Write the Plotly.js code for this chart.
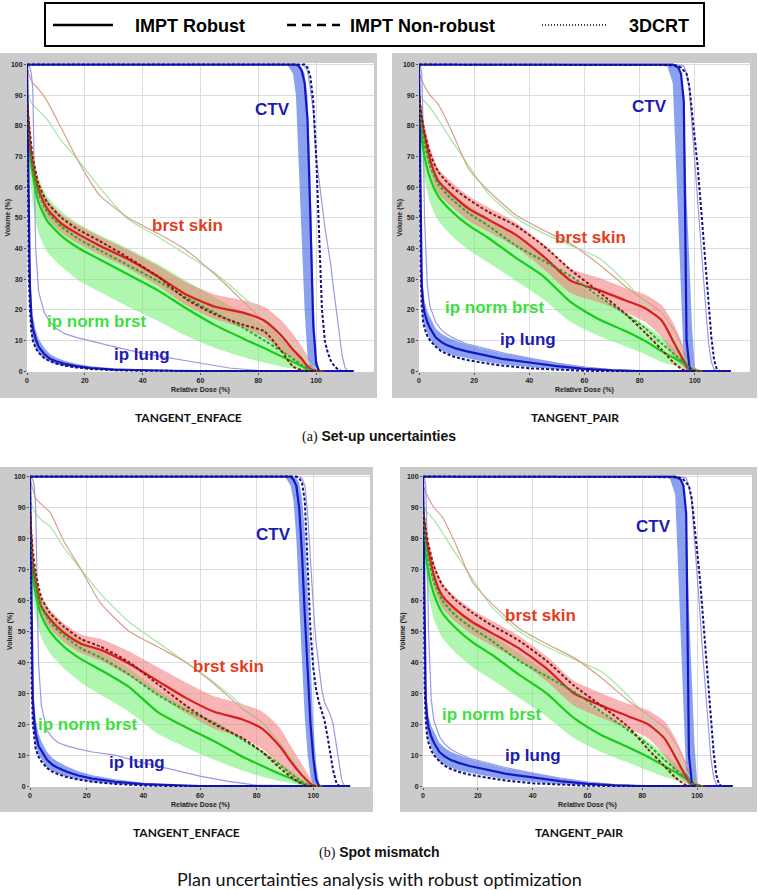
<!DOCTYPE html>
<html><head><meta charset="utf-8">
<script src="https://cdn.plot.ly/plotly-3.0.1.min.js"></script>
<style>html,body{margin:0;padding:0;background:#fff;}#chart{width:758px;height:890px;}</style>
</head><body><div id="chart"></div>
<script>
// ---------------- DATA ----------------
const DOSE_ORG  = [0,1,2,4,7,12,18,25,35,45,55,65,75,82,88,92,95,97,99,101,103];
const DOSE_CTV  = [0,90,92,93,94,95,96,97,98,99,100,101,102,103,104,105,106,107,108,109,110,111,113];
const DOSE_LUNG = [0,0.3,0.6,1,1.5,2,3,4,6,8,10,13,17,22,30,40,50,60,70,80,100];
const X_TICKS = [0,20,40,60,80,100];
const Y_TICKS = [0,10,20,30,40,50,60,70,80,90,100];

// Panel A1: Set-up, TANGENT_ENFACE
const A1_SKIN_ROB = [88,75,67,59,53,48,44.5,41,36.5,31,25,21,19,16.5,11.5,7,4,1.5,0.3,0,0];
const A1_SKIN_LO  = [86,72,64,56,50,45,41.5,38,33.5,28,21.5,17,14,11,6.5,3.5,1.5,0.5,0,0,0];
const A1_SKIN_HI  = [90,78,70,62,56,51,47.5,44,39.5,34.5,29,25,23,21,16.5,12,8,5,2,0.5,0];
const A1_SKIN_NR  = [88,78,70,61,55,50,46,42.5,37,31,23.5,18.5,15,13,6.5,1.5,0.3,0,0,0,0];
const A1_SKIN_CRT = [99,96,94,92,88,79,68,57.5,50,45,39.5,31.5,22.5,16,10,6.5,3.5,2,0.8,0.2,0];
const A1_NORM_ROB = [88,72,64,55,49,44,40,36.5,31.5,26.5,20.5,15,10.5,7.5,4.8,3,1.6,0.6,0.1,0,0];
const A1_NORM_LO  = [85,64,55,45,39,34,29.5,26,21,16.5,11.5,7.5,4.5,2.8,1.5,0.8,0.3,0.1,0,0,0];
const A1_NORM_HI  = [90,79,71,63,57,52,48,44.5,40,35,29.5,24,19,15,10.5,7,4.5,2.5,1,0.3,0];
const A1_NORM_NR  = [88,75,67,58,52,47,43,39.5,34.5,29.5,24,19,14,10,6.5,4,2,0.8,0.2,0,0];
const A1_NORM_CRT = [91,88.6,87,85,82,75,68.5,60,49.5,44,38,32,24,18,12.5,8.7,5.5,3.5,1.5,0.3,0];
const A1_CTV_ROB  = [100,100,100,100,99.5,98,94,82,50,15,2.5,0,0,0,0,0,0,0,0,0,0,0,0];
const A1_CTV_LO   = [100,100,97,90,70,45,20,5,0.5,0,0,0,0,0,0,0,0,0,0,0,0,0,0];
const A1_CTV_HI   = [100,100,100,100,100,99,97,90,65,25,5,0.5,0,0,0,0,0,0,0,0,0,0,0];
const A1_CTV_NR   = [100,100,100,100,100,100,100,99,96,88,70,45,20,10,6,3.5,2,1,0.2,0,0,0,0];
const A1_CTV_CRT  = [100,100,100,100,100,100,99.5,98,92,85,70,62,54,47,41,35,27,19,11,5,1,0,0];
const A1_LUNG_ROB = [100,80,45,28,18,14,10.5,8,5.5,4,3.2,2.4,1.6,1,0.5,0.2,0.1,0,0,0,0];
const A1_LUNG_LO  = [100,70,35,20,13,10,7.5,6,4,3,2.2,1.5,1,0.5,0.2,0,0,0,0,0,0];
const A1_LUNG_HI  = [100,90,58,36,24,18,13.5,10.5,7.5,5.5,4.4,3.4,2.4,1.6,0.9,0.4,0.2,0.05,0,0,0];
const A1_LUNG_NR  = [100,65,32,20,13,10,7.5,6,4.2,3.2,2.5,1.8,1.2,0.7,0.3,0.1,0,0,0,0,0];
const A1_LUNG_CRT = [100,100,99.5,99,97,92,40,26,19,16,14,12.2,11,9.8,8,5.8,4.2,2.6,1,0.2,0];

// Panel A2: Set-up, TANGENT_PAIR
const A2_SKIN_ROB = [90,82,77,69,62,57.5,53,49.5,44.5,37.5,29.5,26.5,23,20.5,16.5,10,5,1.5,0.3,0,0];
const A2_SKIN_LO  = [88,78,73,65,58,53.5,49,45.5,40.5,33.5,25.5,22.5,19,16,11,5,2,0.5,0,0,0];
const A2_SKIN_HI  = [92,85,80,73,66,61.5,57,53.5,48.5,41.5,33.5,30.5,27,25,21.5,16,10,5,2,0.5,0];
const A2_SKIN_NR  = [90,83,78,71,65,60,56,52,47.5,41,33,26,18.5,12.5,7,3,0.8,0,0,0,0];
const A2_SKIN_CRT = [97,95,93,90,87,78,66,59,51,46,41.5,35,27.5,23,19,14,9,5,1.5,0.3,0];
const A2_NORM_ROB = [88,76,70,63,57,52,47.5,43.5,37,31,22.5,17,13,9.8,6.5,4.5,3,1.8,0.6,0,0];
const A2_NORM_LO  = [85,70,63,55,49,44,39.5,35.5,29.5,23.5,16,11.5,8,5.5,3,2,1.2,0.6,0.1,0,0];
const A2_NORM_HI  = [90,80,75,69,63,58,54,50,44,38,30,24,19,15,11,8,5.5,3.5,1.5,0.3,0];
const A2_NORM_NR  = [88,79,74,67,61,56,51.5,47.5,41,36,31,24.5,18.5,14,9,6,3.5,1.8,0.5,0,0];
const A2_NORM_CRT = [91,89,88,86,82,75,67,58,50,45,41,37,29,22,16,11,6.5,3.5,1.2,0.3,0];
const A2_CTV_ROB  = [100,100,100,99.5,99,97,88,10,1.5,0.2,0,0,0,0,0,0,0,0,0,0,0,0,0];
const A2_CTV_LO   = [100,99.5,94,72,48,26,3,0,0,0,0,0,0,0,0,0,0,0,0,0,0,0,0];
const A2_CTV_HI   = [100,100,100,100,99.5,97,90,57,36,14,1,0,0,0,0,0,0,0,0,0,0,0,0];
const A2_CTV_NR   = [100,100,100,99.8,99.5,99,98,97,93,85,76,67,56,45,34,22,11,3.5,0.5,0,0,0,0];
const A2_CTV_CRT  = [100,100,100,100,100,99.8,99.5,97,92,81,68,56,43,32,20,9,3,0.5,0,0,0,0,0];
const A2_LUNG_ROB = [100,75,45,28,22,19,16,14,11,9.5,8.5,7.5,6.5,5.5,4,2.8,1.6,0.7,0.2,0,0];
const A2_LUNG_LO  = [100,65,35,22,17,15,12.5,10.5,8,6.8,6,5,4.2,3.4,2.2,1.3,0.6,0.2,0,0,0];
const A2_LUNG_HI  = [100,85,55,34,27,23,19.5,17.5,14,12.3,11.2,10,8.8,7.6,5.8,4.2,2.6,1.4,0.6,0.2,0];
const A2_LUNG_NR  = [100,60,32,21,16,14,11.5,10,8,6.5,5.6,4.6,3.7,2.9,1.8,0.9,0.4,0.1,0,0,0];
const A2_LUNG_CRT = [100,100,99,97,80,50,28,21,16,13.5,12,10.5,9,7.8,6,4.2,2.6,1.3,0.5,0.1,0];

// Panel B1: Spot mismatch, TANGENT_ENFACE
const B1_SKIN_ROB = [88,72,66,58,54,49.5,46,44,39.5,34,28.5,24,21.5,18.5,13,8,4.5,2.5,0.8,0,0];
const B1_SKIN_LO  = [86,69,63,55,51,46.5,43,40.5,35.5,29.5,23.5,18.5,15.5,12,7,3.5,1.5,0.5,0,0,0];
const B1_SKIN_HI  = [90,75,69,61,57,52.5,49,47.5,43.5,38.5,33.5,29,26.5,24,19,13,8.5,5.5,2.5,0.5,0];
const B1_SKIN_NR  = [88,76,69,61,56,51.5,47.5,45,40,33,26,20,15.5,11,6,3,1.2,0.3,0,0,0];
const B1_SKIN_CRT = [99,96,93,91,88.5,79,70,59,50,45,40,33,25,20.5,14,9,5,2.5,0.8,0.2,0];
const B1_NORM_ROB = [88,68,62,55,50,45,41,37.5,32,24,19,14.5,9.5,6.5,4,2.5,1.2,0.5,0.1,0,0];
const B1_NORM_LO  = [85,62,55,48,43,38,33.5,29.5,24,17,12.5,8.5,5,3,1.6,1,0.4,0.1,0,0,0];
const B1_NORM_HI  = [90,73,67,61,56,51,47,43.5,38,31,25.5,21,15.5,11.5,7.5,5,3,1.6,0.6,0.1,0];
const B1_NORM_NR  = [88,72,66,58,53,48.5,44.5,41.5,36,29.5,24.5,20.5,15,11,7,4,2,0.8,0.2,0,0];
const B1_NORM_CRT = [92,90,88,86,84,77,70,62,53,46.5,40,33.5,26,20,14,9.5,5.5,3,1.2,0.3,0];
const B1_CTV_ROB  = [100,100,100,99,97,90,75,55,35,20,9,2,0,0,0,0,0,0,0,0,0,0,0];
const B1_CTV_LO   = [100,100,97,92,80,60,40,22,10,3,0.5,0,0,0,0,0,0,0,0,0,0,0,0];
const B1_CTV_HI   = [100,100,100,100,99.5,98,93,82,62,40,20,7,1,0,0,0,0,0,0,0,0,0,0];
const B1_CTV_NR   = [100,100,100,100,100,99.5,98,92,72,50,38,31,27,24,21,16,11,5,1.5,0,0,0,0];
const B1_CTV_CRT  = [100,100,100,100,100,100,99.5,97,88,72,58,46,38,31,27,25,23,20,14,7,2,0,0];
const B1_LUNG_ROB = [100,78,45,28,21,17,13,11.5,8.5,6.8,5.8,4.6,3.4,2.4,1.4,0.6,0.2,0,0,0,0];
const B1_LUNG_LO  = [100,68,35,22,16,13,10,8.5,6,4.8,4,3,2.2,1.4,0.7,0.2,0,0,0,0,0];
const B1_LUNG_HI  = [100,88,58,36,27,22,17,14.5,11,9,7.8,6.3,4.8,3.5,2.2,1.1,0.5,0.1,0,0,0];
const B1_LUNG_NR  = [100,62,32,20,15,12,9.5,8,5.8,4.6,3.8,2.9,2.1,1.4,0.7,0.2,0,0,0,0,0];
const B1_LUNG_CRT = [100,100,99.5,99,97,90,40,26,18,15.5,14,13,12,11,10,7.5,5.4,3.2,1.5,0.3,0];

// Panel B2: Spot mismatch, TANGENT_PAIR
const B2_SKIN_ROB = [90,81,76,68,61.5,57,53,49.5,44.5,38,30,26,22.5,20,15.5,9.5,4.5,1.5,0.3,0,0];
const B2_SKIN_LO  = [88,77,72,64,57.5,53,49,45.5,40.5,34,26,22,18.5,15.5,10,4.5,1.8,0.5,0,0,0];
const B2_SKIN_HI  = [92,84,79,72,65.5,61,57,53.5,48.5,42,34,30,26.5,24.5,21,15.5,9.5,5,2,0.5,0];
const B2_SKIN_NR  = [90,83,78,71,65,60,56,52,47,40.5,32.5,26,19,12,6.5,2.8,0.8,0,0,0,0];
const B2_SKIN_CRT = [97,95,93,90,87,78,66,59,51,46,41.5,35,27.5,23,19,14,9,5,1.5,0.3,0];
const B2_NORM_ROB = [88,75,69,62,56,51,46.5,42.5,36,30,22,16.5,12.5,9.5,6.5,4.5,3,1.8,0.6,0,0];
const B2_NORM_LO  = [85,69,62,54,48,43,38.5,34.5,28.5,22.5,15.5,11,7.5,5,3,2,1.2,0.6,0.1,0,0];
const B2_NORM_HI  = [90,79,74,68,62,57,53,49,43,37,29.5,23.5,18.5,14.5,10.5,7.5,5.5,3.5,1.5,0.3,0];
const B2_NORM_NR  = [88,78,73,66,60,55,51,47,40.5,35.5,30.5,24,18,13.5,8.5,5.5,3.2,1.6,0.5,0,0];
const B2_NORM_CRT = [91,89,88,86,82,75,67,58,50,45,41,37,29,22,16,11,6.5,3.5,1.2,0.3,0];
const B2_CTV_ROB  = [100,100,100,99.5,99,97,88,10,1.5,0.2,0,0,0,0,0,0,0,0,0,0,0,0,0];
const B2_CTV_LO   = [100,99.5,94,72,48,26,3,0,0,0,0,0,0,0,0,0,0,0,0,0,0,0,0];
const B2_CTV_HI   = [100,100,100,100,99.5,97,90,57,36,14,1,0,0,0,0,0,0,0,0,0,0,0,0];
const B2_CTV_NR   = [100,100,100,99.8,99.5,99,98,97,93,85,76,67,56,45,34,22,11,3.5,0.5,0,0,0,0];
const B2_CTV_CRT  = [100,100,100,100,100,99.8,99.5,97,92,81,68,56,43,32,20,9,3,0.5,0,0,0,0,0];
const B2_LUNG_ROB = [100,75,45,28,22,19,16,14,11,9.5,8.5,7.5,6.5,5.5,4,2.8,1.6,0.7,0.2,0,0];
const B2_LUNG_LO  = [100,65,35,22,17,15,12.5,10.5,8,6.8,6,5,4.2,3.4,2.2,1.3,0.6,0.2,0,0,0];
const B2_LUNG_HI  = [100,85,55,34,27,23,19.5,17.5,14,12.3,11.2,10,8.8,7.6,5.8,4.2,2.6,1.4,0.6,0.2,0];
const B2_LUNG_NR  = [100,60,32,21,16,14,11.5,10,8,6.5,5.6,4.6,3.7,2.9,1.8,0.9,0.4,0.1,0,0,0];
const B2_LUNG_CRT = [100,100,99,97,80,50,28,21,16,13.5,12,10.5,9,7.8,6,4.2,2.6,1.3,0.5,0.1,0];

const STRUCT_LABELS = ['CTV','brst skin','ip norm brst','ip lung'];
const CAPTIONS = ['TANGENT_ENFACE','TANGENT_PAIR'];
const ROW_CAPTIONS = ['Set-up uncertainties','Spot mismatch'];
const ROW_LETTERS = ['(a)','(b)'];
const LEGEND_NAMES = ['IMPT Robust','IMPT Non-robust','3DCRT'];
const MAIN_TITLE = 'Plan uncertainties analysis with robust optimization';

// ---------------- LAYOUT / STYLE ----------------
const W = 758, H = 890;
const PANELS = [
  {plot:[27,63,374,372],  gray:[0,53,377,398],
   lab:{ctv:[84.8,85.4], skin:[55.4,47.6], norm:[24.2,16.2], lung:[39.8,5.5]}},
  {plot:[419,63,750,372], gray:[392,53,757,398],
   lab:{ctv:[83.7,86.4], skin:[62,43.7], norm:[27.5,20.7], lung:[39.5,10.4]}},
  {plot:[30,475,370,787], gray:[0,467,373,812],
   lab:{ctv:[85.9,81.4], skin:[70,38.5], norm:[20.4,19.9], lung:[37.7,7.7]}},
  {plot:[423,475,752,787],gray:[400,467,757,812],
   lab:{ctv:[84,84], skin:[43,55], norm:[25,23], lung:[40,9.8]}}
];
const PANEL_DATA = [
  {skin:[A1_SKIN_ROB,A1_SKIN_LO,A1_SKIN_HI,A1_SKIN_NR,A1_SKIN_CRT], norm:[A1_NORM_ROB,A1_NORM_LO,A1_NORM_HI,A1_NORM_NR,A1_NORM_CRT],
   ctv:[A1_CTV_ROB,A1_CTV_LO,A1_CTV_HI,A1_CTV_NR,A1_CTV_CRT], lung:[A1_LUNG_ROB,A1_LUNG_LO,A1_LUNG_HI,A1_LUNG_NR,A1_LUNG_CRT]},
  {skin:[A2_SKIN_ROB,A2_SKIN_LO,A2_SKIN_HI,A2_SKIN_NR,A2_SKIN_CRT], norm:[A2_NORM_ROB,A2_NORM_LO,A2_NORM_HI,A2_NORM_NR,A2_NORM_CRT],
   ctv:[A2_CTV_ROB,A2_CTV_LO,A2_CTV_HI,A2_CTV_NR,A2_CTV_CRT], lung:[A2_LUNG_ROB,A2_LUNG_LO,A2_LUNG_HI,A2_LUNG_NR,A2_LUNG_CRT]},
  {skin:[B1_SKIN_ROB,B1_SKIN_LO,B1_SKIN_HI,B1_SKIN_NR,B1_SKIN_CRT], norm:[B1_NORM_ROB,B1_NORM_LO,B1_NORM_HI,B1_NORM_NR,B1_NORM_CRT],
   ctv:[B1_CTV_ROB,B1_CTV_LO,B1_CTV_HI,B1_CTV_NR,B1_CTV_CRT], lung:[B1_LUNG_ROB,B1_LUNG_LO,B1_LUNG_HI,B1_LUNG_NR,B1_LUNG_CRT]},
  {skin:[B2_SKIN_ROB,B2_SKIN_LO,B2_SKIN_HI,B2_SKIN_NR,B2_SKIN_CRT], norm:[B2_NORM_ROB,B2_NORM_LO,B2_NORM_HI,B2_NORM_NR,B2_NORM_CRT],
   ctv:[B2_CTV_ROB,B2_CTV_LO,B2_CTV_HI,B2_CTV_NR,B2_CTV_CRT], lung:[B2_LUNG_ROB,B2_LUNG_LO,B2_LUNG_HI,B2_LUNG_NR,B2_LUNG_CRT]}
];
const STY = {
  skin:{rob:'#d81e1e', band:'rgba(242,120,120,0.55)', nr:'#8a1c12', crt:'#d9a08c', lab:'#e2401c', grid:DOSE_ORG, shape:'spline'},
  norm:{rob:'#18cc18', band:'rgba(110,238,110,0.55)', nr:'#28a828', crt:'#a4e6a4', lab:'#3ee03e', grid:DOSE_ORG, shape:'spline'},
  ctv: {rob:'#1616c8', band:'rgba(60,100,225,0.6)', nr:'#12127e', crt:'#9a9ae2', lab:'#1c1cb0', grid:DOSE_CTV, shape:'linear'},
  lung:{rob:'#1616c8', band:'rgba(60,100,225,0.6)', nr:'#12127e', crt:'#9a9ae2', lab:'#1c1cb0', grid:DOSE_LUNG, shape:'linear'}
};
const px = v => v / W;
const py = v => 1 - v / H;

const traces = [];
const shapes = [];
const annotations = [];
const layout = {
  width: W, height: H, margin:{l:0,r:0,t:0,b:0},
  paper_bgcolor:'#ffffff', plot_bgcolor:'rgba(0,0,0,0)', showlegend:false,
  shapes: shapes, annotations: annotations
};
const ORDER = ['norm','skin','ctv','lung'];
const LABKEY = {ctv:0, skin:1, norm:2, lung:3};
function note(o){ annotations.push(Object.assign({showarrow:false, xanchor:'center', yanchor:'middle', xref:'paper', yref:'paper'}, o)); }

PANELS.forEach((p, i) => {
  const n = i + 1, sfx = n === 1 ? '' : String(n);
  const xa = 'x' + sfx, ya = 'y' + sfx;
  const [x0,y0,x1,y1] = p.plot;
  const tick = {family:'Liberation Sans, Arial, sans-serif', size:7, color:'#222', weight:'bold'};
  layout['xaxis' + sfx] = {domain:[px(x0), px(x1)], anchor:ya, range:[0,120], tickvals:X_TICKS,
    showgrid:true, gridcolor:'#dcdcdc', gridwidth:1, zeroline:false, showline:false, ticks:'outside', ticklen:2, tickcolor:'#555', tickfont:tick, fixedrange:true};
  layout['yaxis' + sfx] = {domain:[py(y1), py(y0)], anchor:xa, range:[-0.3,100.5], tickvals:Y_TICKS,
    showgrid:true, gridcolor:'#dcdcdc', gridwidth:1, zeroline:false, showline:false, ticks:'outside', ticklen:2, tickcolor:'#555', tickfont:tick, fixedrange:true};
  const [g0,gy0,g1,gy1] = p.gray;
  shapes.push({type:'rect', xref:'paper', yref:'paper', x0:px(g0), x1:px(g1), y0:py(gy1), y1:py(gy0), fillcolor:'#cbcbcb', line:{width:0}, layer:'below'});
  shapes.push({type:'rect', xref:'paper', yref:'paper', x0:px(x0), x1:px(x1), y0:py(y1), y1:py(y0), fillcolor:'#ffffff', line:{width:0}, layer:'below'});

  const D = PANEL_DATA[i];
  ORDER.forEach(k => {
    const s = STY[k], g = s.grid, lo = D[k][1], hi = D[k][2];
    traces.push({type:'scatter', mode:'lines', xaxis:xa, yaxis:ya, hoverinfo:'skip',
      x: g.concat(g.slice().reverse()), y: hi.concat(lo.slice().reverse()),
      fill:'toself', fillcolor:s.band, line:{width:0, shape:s.shape, smoothing:0.6}});
  });
  ORDER.forEach(k => {
    const s = STY[k];
    traces.push({type:'scatter', mode:'lines', xaxis:xa, yaxis:ya, hoverinfo:'skip', x:s.grid, y:D[k][4],
      line:{color:s.crt, width:1.2, shape:s.shape, smoothing:0.6}});
  });
  ORDER.forEach(k => {
    const s = STY[k];
    traces.push({type:'scatter', mode:'lines', xaxis:xa, yaxis:ya, hoverinfo:'skip', x:s.grid, y:D[k][0],
      line:{color:s.rob, width:2.2, shape:s.shape, smoothing:0.6}});
  });
  ORDER.forEach(k => {
    const s = STY[k];
    traces.push({type:'scatter', mode:'lines', xaxis:xa, yaxis:ya, hoverinfo:'skip', x:s.grid, y:D[k][3],
      line:{color:s.nr, width:2, dash:'3px,2px', shape:s.shape, smoothing:0.6}});
  });
  ['ctv','skin','norm','lung'].forEach(k => {
    const pos = p.lab[k];
    note({xref:xa, yref:ya, x:pos[0], y:pos[1], text:'<b>'+STRUCT_LABELS[LABKEY[k]]+'</b>',
      font:{family:'Liberation Sans, Arial, sans-serif', size:17, color:STY[k].lab}});
  });
  note({x:px(x0-20), y:py((y0+y1)/2), text:'<b>Volume (%)</b>', textangle:-90,
    font:{family:'Liberation Sans, Arial, sans-serif', size:7, color:'#222'}});
  note({x:px((x0+x1)/2), y:py(y1+18), text:'<b>Relative Dose (%)</b>',
    font:{family:'Liberation Sans, Arial, sans-serif', size:7, color:'#222'}});
  const capY = i < 2 ? 417 : 832;
  note({x:px((g0+g1)/2), y:py(capY), text:'<b>'+CAPTIONS[i%2]+'</b>',
    font:{family:'Lato, Open Sans, sans-serif', size:12, color:'#111'}});
});

[436, 852].forEach((yy, r) => {
  note({x:0.5, y:py(yy),
    text:'<span style="font-family:Liberation Serif, Times New Roman, serif;font-weight:normal">'+ROW_LETTERS[r]+'</span> <b>'+ROW_CAPTIONS[r]+'</b>',
    font:{family:'Liberation Sans, Arial, sans-serif', size:14, color:'#111'}});
});
note({x:0.5, y:py(879), text:MAIN_TITLE, font:{family:'Lato, Open Sans, sans-serif', size:18, color:'#111'}});

shapes.push({type:'rect', xref:'paper', yref:'paper', x0:px(45), x1:px(704), y0:py(46), y1:py(3), line:{color:'#000', width:2}, fillcolor:'rgba(0,0,0,0)'});
const LEG = [
  {l0:53, l1:113, tx:133, dash:'solid', w:2.5},
  {l0:287, l1:340, tx:348, dash:'9px,6px', w:2.5},
  {l0:542, l1:606, tx:627, dash:'1px,2px', w:1.5}
];
LEG.forEach((g, j) => {
  shapes.push({type:'line', xref:'paper', yref:'paper', x0:px(g.l0), x1:px(g.l1), y0:py(25), y1:py(25), line:{color:'#000', width:g.w, dash:g.dash}});
  note({x:px(g.tx), y:py(26), xanchor:'left', text:'<b>'+LEGEND_NAMES[j]+'</b>',
    font:{family:'Liberation Sans, Arial, sans-serif', size:18, color:'#000'}});
});

Plotly.newPlot('chart', traces, layout, {staticPlot:true, displayModeBar:false});
</script>
</body></html>
